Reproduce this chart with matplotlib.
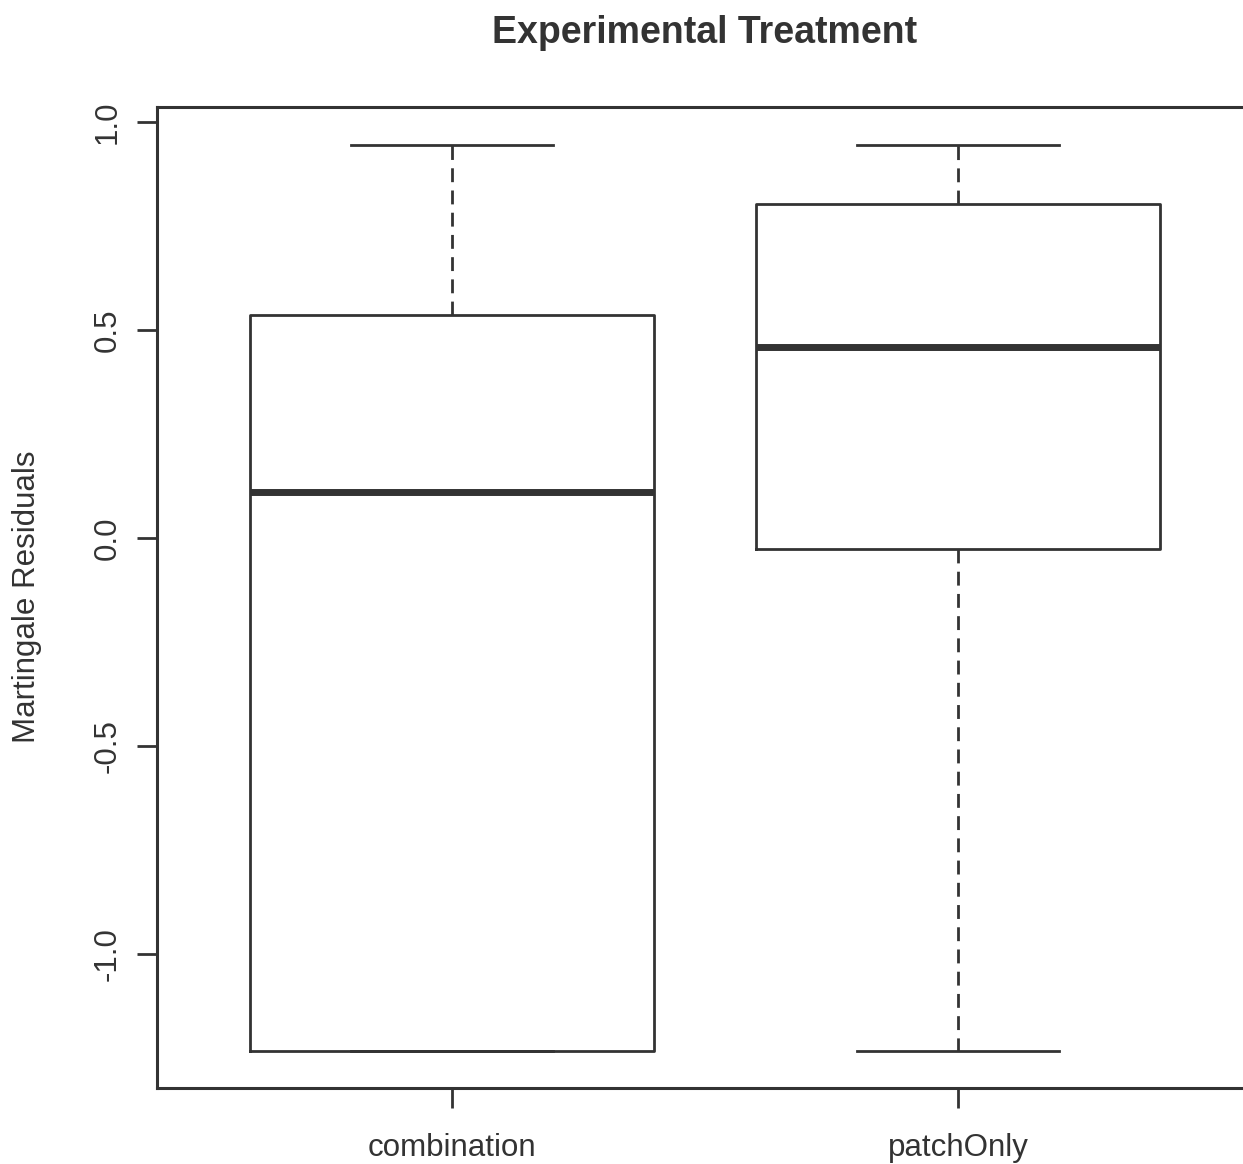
import matplotlib
matplotlib.use("Agg")
import matplotlib.pyplot as plt

# data
groups = ['combination', 'patchOnly']
whisk_lo = [-1.233, -1.233]
q1 = [-1.233, -0.026]
med = [0.110, 0.460]
q3 = [0.537, 0.803]
whisk_hi = [0.945, 0.945]
yticks = [-1.0, -0.5, 0.0, 0.5, 1.0]

ink = '#333333'
plt.rcParams['font.family'] = ['Liberation Sans', 'DejaVu Sans']

fig = plt.figure(figsize=(12.43, 11.64), dpi=100)
ax = fig.add_axes([157/1243, 1-1088/1164, (1253-157)/1243, (1088-107)/1164])

stats = []
for i, g in enumerate(groups):
    stats.append({'label': g, 'whislo': whisk_lo[i], 'q1': q1[i], 'med': med[i],
                  'q3': q3[i], 'whishi': whisk_hi[i], 'fliers': []})

ax.bxp(stats, positions=[1, 2], widths=0.8, showfliers=False,
       boxprops=dict(color=ink, linewidth=2.0),
       medianprops=dict(color=ink, linewidth=5.0, solid_capstyle='butt'),
       whiskerprops=dict(color=ink, linewidth=2.0, linestyle=(0, (5, 3))),
       capprops=dict(color=ink, linewidth=2.0),
       capwidths=0.4)

ax.set_xlim(0.417, 2.583)
ax.set_ylim(-1.321, 1.036)
ax.set_yticks(yticks)
ax.set_yticklabels(['%.1f' % v for v in yticks], rotation=90, va='center')
ax.set_xticks([1, 2])
ax.set_xticklabels(groups)

for s in ax.spines.values():
    s.set_color(ink)
    s.set_linewidth(2.2)

ax.tick_params(direction='out', length=14.4, width=2.0, color=ink,
               labelcolor=ink, labelsize=22.5)
ax.tick_params(axis='y', pad=10)
ax.tick_params(axis='x', pad=18)

fig.text(27/1243, 1-597/1164, 'Martingale Residuals', rotation=90,
         ha='center', va='center', fontsize=22.5, color=ink)
fig.text(705/1243, 1-33/1164, 'Experimental Treatment', ha='center', va='center',
         fontsize=27, fontweight='bold', color=ink)

fig.savefig('out.png', dpi=100)
